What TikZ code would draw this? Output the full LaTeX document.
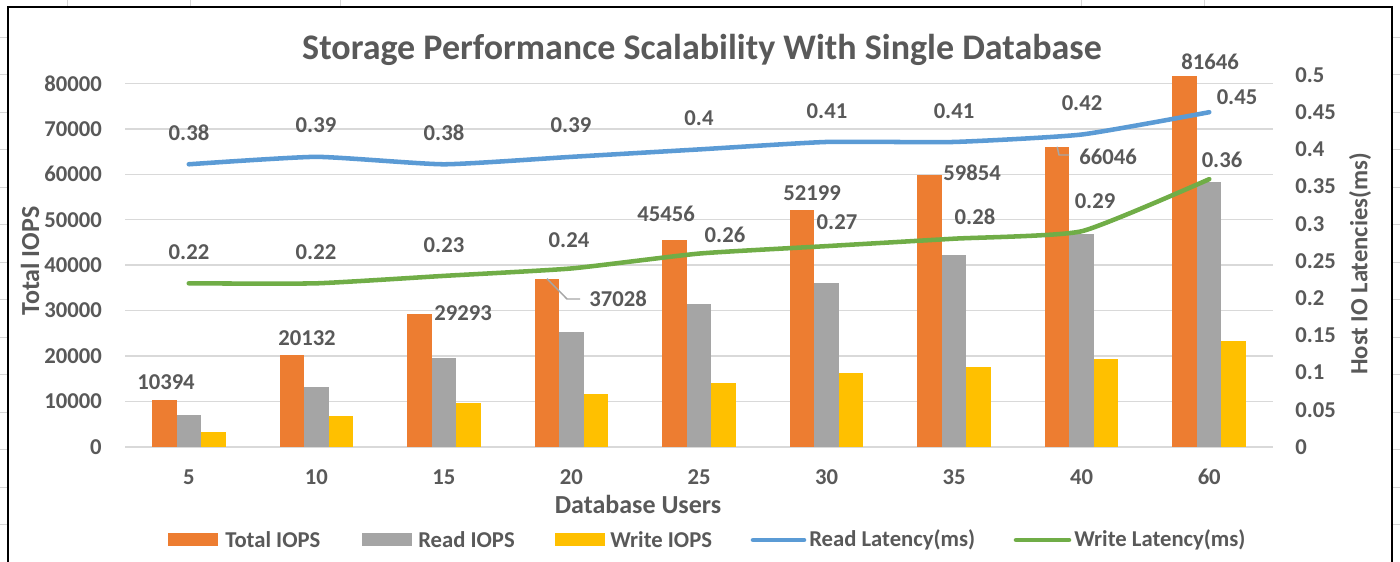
\documentclass[tikz,border=0pt]{standalone}
\usepackage{fontspec}
\setmainfont{Carlito}
\usetikzlibrary{calc}
\definecolor{txt}{HTML}{595959}
\definecolor{gridc}{HTML}{D9D9D9}
\definecolor{sheet}{HTML}{D6D6D6}
\definecolor{tot}{HTML}{ED7D31}
\definecolor{rd}{HTML}{A5A5A5}
\definecolor{wr}{HTML}{FFC000}
\definecolor{rlat}{HTML}{5B9BD5}
\definecolor{wlat}{HTML}{70AD47}
\definecolor{lead}{HTML}{A6A6A6}
\begin{document}
\begin{tikzpicture}[x=0.75pt,y=-0.75pt,
  lbl/.style={text=txt,font=\fontsize{17}{20}\selectfont\bfseries,inner sep=0pt},
  axttl/.style={text=txt,font=\fontsize{19.5}{22}\selectfont\bfseries,inner sep=0pt},
  ttl/.style={text=txt,font=\fontsize{27}{30}\selectfont\bfseries,inner sep=0pt},
  gridline/.style={draw=gridc,line width=1.1pt},
  sheetline/.style={draw=sheet,line width=0.75pt},
  latline/.style={line width=3.4pt,line cap=round,line join=round},
  leader/.style={draw=lead,line width=1.1pt}]
\useasboundingbox (0,0) rectangle (1400,561);
\clip (0,0) rectangle (1400,561);
\fill[white] (0,0) rectangle (1400,561);

% spreadsheet cells around the chart object
\foreach \gx in {67,190,340,1081,1204}
  \draw[sheetline] (\gx,0) -- (\gx,7);
\foreach \k in {0,...,13} {
  \draw[sheetline] (0,{37.4+37.5*\k}) -- (8,{37.4+37.5*\k});
  \draw[sheetline] (1392,{37.4+37.5*\k}) -- (1400,{37.4+37.5*\k});
}

% chart frame
\draw[black,line width=1.5pt] (8,575) -- (8,7) -- (1392,7) -- (1392,575);

% title
\node[ttl] (title) at (702,50) {Storage Performance Scalability With Single Database};

% horizontal gridlines and left axis (IOPS, 10000 per step)
\foreach \k/\val in {0/0,1/10000,2/20000,3/30000,4/40000,5/50000,6/60000,7/70000,8/80000} {
  \draw[gridline] (125,{447-\k*45.455}) -- (1273,{447-\k*45.455});
  \node[lbl,anchor=east] (ly\k) at (102,{447-\k*45.455}) {\val};
}

% right axis (latency, ms)
\foreach \k/\t in {0/0,1/0.05,2/0.1,3/0.15,4/0.2,5/0.25,6/0.3,7/0.35,8/0.4,9/0.45,10/0.5}
  \node[lbl,anchor=west] (ry\k) at (1295,{447-\k*37.2}) {\t};

% bars: total, read, write IOPS (thousands)
\foreach \i/\lab/\t/\r in {1/5/10.394/7.033, 2/10/20.132/13.25, 3/15/29.293/19.56,
    4/20/37.028/25.27, 5/25/45.456/31.46, 6/30/52.199/36.01, 7/35/59.854/42.24,
    8/40/66.046/46.79, 9/60/81.646/58.365} {
  \pgfmathsetmacro\c{125+(\i-0.5)*127.556}
  \pgfmathsetmacro\w{\t-\r}
  \fill[tot] (\c-36.75,447) rectangle (\c-12.25,{447-\t*4.5455});
  \fill[rd] (\c-12.25,447) rectangle (\c+12.25,{447-\r*4.5455});
  \fill[wr] (\c+12.25,447) rectangle (\c+36.75,{447-\w*4.5455});
  \coordinate (t\i) at (\c-24.5,{447-\t*4.5455});
  \node[lbl] (cat\i) at (\c,477) {\lab};
}

% latency points
\foreach \i/\v in {1/0.38,2/0.39,3/0.38,4/0.39,5/0.40,6/0.41,7/0.41,8/0.42,9/0.45}
  \coordinate (r\i) at ({125+(\i-0.5)*127.556},{447-\v*744});
\foreach \i/\v in {1/0.22,2/0.22,3/0.23,4/0.24,5/0.26,6/0.27,7/0.28,8/0.29,9/0.36}
  \coordinate (w\i) at ({125+(\i-0.5)*127.556},{447-\v*744});

\draw[latline,rlat] plot[smooth,tension=0.3] coordinates {(r1) (r2) (r3) (r4) (r5) (r6) (r7) (r8) (r9)};
\draw[latline,wlat] plot[smooth,tension=0.3] coordinates {(w1) (w2) (w3) (w4) (w5) (w6) (w7) (w8) (w9)};

% total IOPS data labels
\node[lbl] (n1) at (166,382) {10394};
\node[lbl] (n2) at (307,338) {20132};
\node[lbl] (n3) at (463,313) {29293};
\node[lbl] (n4) at (618,299) {37028};
\node[lbl] (n5) at (666,214) {45456};
\node[lbl] (n6) at (812,193) {52199};
\node[lbl] (n7) at (972,173) {59854};
\node[lbl] (n8) at (1108,157) {66046};
\node[lbl] (n9) at (1210,62) {81646};
\draw[leader] (t4) -- ($(n4.west)+(-22,0)$) -- ($(n4.west)+(-9,0)$);
\draw[leader] (t8) -- ($(n8.west)+(-20,-2)$) -- ($(n8.west)+(-10,-2)$);

% read latency labels
\node[lbl] (rl1) at (189,133) {0.38};
\node[lbl] (rl2) at (316,125) {0.39};
\node[lbl] (rl3) at (444,133) {0.38};
\node[lbl] (rl4) at (571,125) {0.39};
\node[lbl] (rl5) at (699,118) {0.4};
\node[lbl] (rl6) at (827,111) {0.41};
\node[lbl] (rl7) at (954,111) {0.41};
\node[lbl] (rl8) at (1082,103) {0.42};
\node[lbl] (rl9) at (1237,97) {0.45};

% write latency labels
\node[lbl] (wl1) at (189,252) {0.22};
\node[lbl] (wl2) at (316,252) {0.22};
\node[lbl] (wl3) at (444,245) {0.23};
\node[lbl] (wl4) at (569,240) {0.24};
\node[lbl] (wl5) at (725,235) {0.26};
\node[lbl] (wl6) at (837,222) {0.27};
\node[lbl] (wl7) at (975,217) {0.28};
\node[lbl] (wl8) at (1095,201) {0.29};
\node[lbl] (wl9) at (1222,160) {0.36};

% axis titles
\node[axttl] (xt) at (638,504) {Database Users};
\node[axttl,rotate=90] (ylt) at (30,261) {Total IOPS};
\node[axttl,rotate=90,font=\fontsize{18.5}{21}\selectfont\bfseries] (yrt) at (1360,264) {Host IO Latencies(ms)};

% legend
\fill[tot] (168,533) rectangle (218,546);
\node[lbl,anchor=west] (lg1) at (225,540) {Total IOPS};
\fill[rd] (362,533) rectangle (412,546);
\node[lbl,anchor=west] (lg2) at (418,540) {Read IOPS};
\fill[wr] (555,533) rectangle (605,546);
\node[lbl,anchor=west] (lg3) at (610,540) {Write IOPS};
\coordinate (lg4a) at (753,540);
\coordinate (lg4b) at (804,540);
\draw[latline,rlat] (lg4a) -- (lg4b);
\node[lbl,anchor=west] (lg4) at (809,540) {Read Latency(ms)};
\coordinate (lg5a) at (1016,540);
\coordinate (lg5b) at (1069,540);
\draw[latline,wlat] (lg5a) -- (lg5b);
\node[lbl,anchor=west] (lg5) at (1074,540) {Write Latency(ms)};
\end{tikzpicture}
\end{document}
